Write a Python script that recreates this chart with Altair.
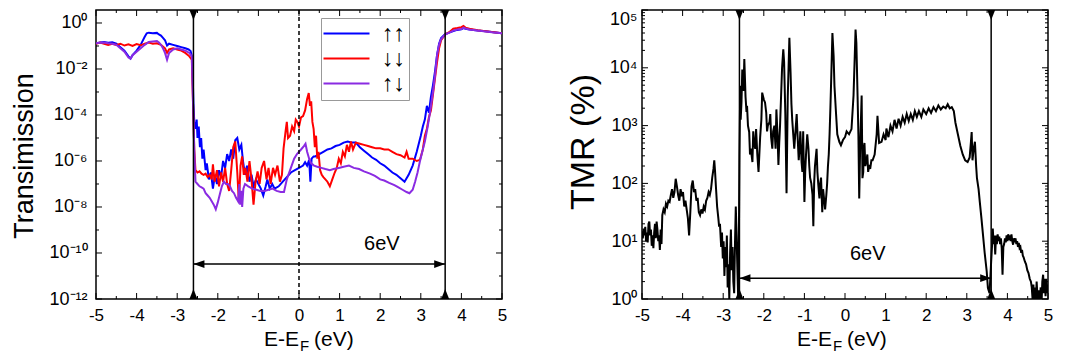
import altair as alt
import pandas as pd

FONT = "Liberation Sans"

# ---------------- data (log10 values) ----------------
labels = ["↑↑", "↓↓", "↑↓"]
colors = ["#0000ff", "#ff0000", "#8a2be2"]

blue_e = [-5.0,-4.9,-4.8,-4.7,-4.6,-4.5,-4.4,-4.3,-4.2,-4.15,
          -4.1,-4.0,-3.9,-3.8,-3.75,-3.7,-3.6,-3.5,-3.45,-3.4,
          -3.35,-3.3,-3.25,-3.2,-3.1,-3.0,-2.9,-2.8,-2.72,-2.67,
          -2.63,-2.6,-2.58,-2.55,-2.52,-2.5,-2.47,-2.44,-2.41,-2.38,
          -2.35,-2.3,-2.27,-2.22,-2.17,-2.12,-2.07,-2.02,-1.97,-1.92,
          -1.87,-1.82,-1.77,-1.72,-1.67,-1.62,-1.57,-1.52,-1.47,-1.42,
          -1.38,-1.33,-1.28,-1.22,-1.17,-1.12,-1.06,-1.0,-0.94,-0.88,
          -0.82,-0.78,-0.72,-0.66,-0.6,-0.5,-0.4,-0.3,-0.2,-0.1,
          0.0,0.1,0.15,0.2,0.25,0.28,0.31,0.36,0.4,0.5,
          0.6,0.7,0.8,0.9,1.0,1.1,1.2,1.3,1.4,1.5,
          1.6,1.7,1.8,1.9,2.0,2.1,2.2,2.3,2.4,2.5,
          2.6,2.7,2.8,2.9,3.0,3.05,3.1,3.15,3.2,3.25,
          3.3,3.35,3.4,3.45,3.5,3.6,3.7,3.8,3.9,4.0,
          4.05,4.1,4.2,4.4,4.6,4.8,5.0]
blue_log = [-0.88,-0.85,-0.83,-0.86,-0.84,-0.9,-1.05,-1.2,-1.45,-1.55,
            -1.4,-1.2,-0.95,-0.6,-0.45,-0.42,-0.45,-0.43,-0.5,-0.55,
            -0.65,-0.75,-0.98,-0.9,-0.95,-1.0,-1.05,-1.1,-1.15,-1.22,
            -1.5,-3.5,-4.3,-4.6,-4.2,-5.0,-4.5,-5.4,-5.0,-5.9,
            -5.5,-6.4,-6.1,-6.8,-6.5,-7.2,-6.6,-7.0,-6.4,-6.7,
            -6.0,-6.3,-5.7,-6.0,-5.5,-5.9,-5.1,-5.0,-5.5,-5.3,
            -6.0,-6.6,-6.2,-6.9,-6.6,-7.1,-6.8,-7.0,-7.2,-7.5,
            -7.1,-6.8,-7.2,-7.0,-7.2,-7.1,-6.9,-6.7,-6.5,-6.4,
            -6.3,-6.2,-6.05,-6.2,-5.95,-6.9,-5.9,-5.8,-5.8,-5.7,
            -5.6,-5.5,-5.45,-5.35,-5.3,-5.2,-5.15,-5.2,-5.2,-5.4,
            -5.55,-5.7,-5.85,-5.95,-6.1,-6.2,-6.35,-6.5,-6.6,-6.75,
            -6.9,-6.6,-6.2,-5.6,-4.9,-4.5,-4.2,-3.6,-3.9,-3.2,
            -2.7,-2.1,-1.4,-0.9,-0.65,-0.48,-0.42,-0.35,-0.3,-0.27,
            -0.22,-0.25,-0.28,-0.33,-0.36,-0.4,-0.45]

red_e = [-5.0,-4.9,-4.8,-4.7,-4.6,-4.5,-4.4,-4.3,-4.2,-4.1,
         -4.0,-3.9,-3.8,-3.7,-3.6,-3.5,-3.4,-3.3,-3.25,-3.2,
         -3.1,-3.0,-2.9,-2.8,-2.7,-2.64,-2.61,-2.58,-2.55,-2.5,
         -2.45,-2.4,-2.35,-2.3,-2.25,-2.2,-2.15,-2.12,-2.08,-2.02,
         -1.97,-1.92,-1.87,-1.82,-1.77,-1.72,-1.67,-1.62,-1.57,-1.52,
         -1.48,-1.44,-1.4,-1.36,-1.32,-1.27,-1.22,-1.17,-1.12,-1.07,
         -1.02,-0.97,-0.92,-0.86,-0.8,-0.75,-0.7,-0.64,-0.59,-0.53,
         -0.47,-0.42,-0.38,-0.33,-0.3,-0.27,-0.22,-0.17,-0.12,-0.08,
         -0.04,0.0,0.05,0.1,0.15,0.2,0.24,0.27,0.3,0.33,
         0.36,0.39,0.42,0.45,0.48,0.52,0.56,0.6,0.65,0.7,
         0.76,0.82,0.88,0.93,0.98,1.03,1.08,1.13,1.18,1.23,
         1.28,1.33,1.4,1.5,1.6,1.7,1.8,1.9,2.0,2.1,
         2.2,2.3,2.4,2.5,2.6,2.65,2.7,2.8,2.9,2.98,
         3.05,3.1,3.15,3.2,3.25,3.3,3.35,3.4,3.45,3.5,
         3.6,3.7,3.8,3.9,4.0,4.05,4.1,4.2,4.4,4.6,
         4.8,5.0]
red_log = [-0.9,-0.85,-0.9,-0.95,-0.9,-0.95,-0.9,-0.98,-0.93,-1.0,
           -0.92,-0.97,-0.9,-0.85,-0.9,-0.88,-0.95,-1.1,-1.3,-1.15,
           -1.1,-1.15,-1.2,-1.3,-1.45,-1.6,-3.5,-5.5,-6.4,-6.5,
           -6.45,-6.55,-6.6,-6.55,-6.7,-6.6,-6.8,-6.15,-6.9,-6.4,
           -7.1,-6.5,-6.9,-6.3,-7.0,-7.3,-6.4,-5.4,-5.15,-6.5,
           -7.8,-6.2,-5.8,-6.6,-6.3,-6.9,-6.0,-6.8,-7.9,-6.9,
           -6.45,-7.0,-6.3,-6.0,-6.8,-6.3,-7.0,-6.3,-6.6,-6.2,
           -6.9,-6.6,-5.45,-4.7,-4.3,-5.0,-4.9,-4.5,-4.7,-4.2,
           -4.3,-4.5,-4.1,-4.05,-3.8,-3.3,-3.05,-3.6,-3.4,-4.3,
           -4.6,-5.4,-4.9,-5.9,-5.6,-6.4,-6.6,-6.7,-6.8,-6.9,
           -7.1,-6.8,-6.5,-6.3,-5.9,-6.1,-5.6,-5.8,-5.3,-5.6,
           -5.15,-5.5,-5.2,-5.25,-5.3,-5.35,-5.4,-5.45,-5.45,-5.5,
           -5.5,-5.6,-5.7,-5.75,-5.85,-5.6,-5.9,-5.9,-6.0,-5.95,
           -5.5,-4.9,-4.6,-4.1,-3.8,-3.1,-2.4,-1.7,-1.1,-0.75,
           -0.5,-0.4,-0.25,-0.22,-0.18,-0.13,-0.2,-0.25,-0.32,-0.36,
           -0.4,-0.45]

purple_e = [-5.0,-4.9,-4.8,-4.7,-4.6,-4.5,-4.4,-4.3,-4.2,-4.15,
            -4.1,-4.0,-3.9,-3.8,-3.7,-3.6,-3.5,-3.45,-3.4,-3.35,
            -3.3,-3.25,-3.2,-3.1,-3.0,-2.9,-2.8,-2.7,-2.64,-2.61,
            -2.58,-2.55,-2.5,-2.45,-2.4,-2.35,-2.3,-2.25,-2.2,-2.15,
            -2.1,-2.05,-2.0,-1.95,-1.9,-1.85,-1.8,-1.75,-1.7,-1.65,
            -1.6,-1.55,-1.5,-1.47,-1.45,-1.42,-1.4,-1.37,-1.33,-1.25,
            -1.15,-1.05,-0.95,-0.85,-0.75,-0.65,-0.55,-0.45,-0.37,-0.3,
            -0.2,-0.12,-0.05,0.05,0.12,0.16,0.2,0.25,0.3,0.37,
            0.45,0.55,0.65,0.76,0.85,0.98,1.1,1.23,1.35,1.48,
            1.6,1.75,1.87,2.0,2.1,2.22,2.35,2.45,2.55,2.65,
            2.72,2.8,2.86,2.92,2.98,3.05,3.1,3.17,3.23,3.3,
            3.35,3.4,3.45,3.5,3.6,3.7,3.8,3.9,4.0,4.05,
            4.1,4.2,4.4,4.6,4.8,5.0]
purple_log = [-0.88,-0.86,-0.85,-0.88,-0.9,-0.95,-1.1,-1.25,-1.5,-1.55,
              -1.4,-1.25,-1.1,-0.95,-0.82,-0.8,-0.78,-0.85,-0.95,-1.1,
              -1.3,-1.6,-1.3,-1.15,-1.1,-1.15,-1.2,-1.3,-1.45,-3.5,
              -5.5,-6.9,-7.0,-7.1,-7.15,-7.2,-7.4,-7.5,-7.6,-7.75,
              -7.9,-8.1,-7.8,-7.45,-7.1,-6.9,-7.0,-7.0,-7.1,-7.3,
              -7.4,-7.6,-7.75,-7.0,-7.9,-7.3,-8.0,-7.2,-7.0,-7.1,
              -7.2,-7.25,-7.3,-7.3,-7.25,-7.2,-7.3,-7.35,-7.35,-6.8,
              -6.3,-5.9,-5.7,-5.5,-5.35,-5.25,-5.6,-5.9,-6.1,-6.2,
              -6.25,-6.3,-6.35,-6.4,-6.35,-6.3,-6.25,-6.2,-6.3,-6.35,
              -6.45,-6.55,-6.65,-6.8,-6.85,-6.95,-7.05,-7.15,-7.25,-7.35,
              -7.4,-7.25,-6.9,-6.5,-6.0,-5.5,-5.15,-4.5,-3.85,-3.0,
              -2.3,-1.4,-0.95,-0.7,-0.5,-0.42,-0.33,-0.28,-0.26,-0.2,
              -0.24,-0.28,-0.33,-0.37,-0.41,-0.45]

# TMR (log10 %), outside the gap on the left
tmr_left_e = [-5.0,-4.98,-4.96,-4.94,-4.92,-4.9,-4.88,-4.86,-4.84,-4.82,
              -4.8,-4.78,-4.76,-4.74,-4.72,-4.7,-4.68,-4.66,-4.64,-4.62,
              -4.6,-4.58,-4.56,-4.54,-4.52,
              -4.5,-4.47,-4.44,-4.41,-4.38,-4.35,-4.32,-4.29,-4.26,-4.23,
              -4.2,-4.17,-4.14,-4.11,-4.08,-4.05,-4.02,-3.99,-3.96,-3.93,
              -3.9,-3.87,-3.84,-3.81,-3.78,-3.75,-3.72,-3.69,-3.66,-3.63,
              -3.6,-3.57,-3.54,-3.51,-3.48,-3.45,-3.42,-3.39,-3.36,-3.33,
              -3.3,-3.27,-3.24,-3.22,-3.2,-3.18,-3.15,-3.12,-3.1,-3.08,
              -3.05,-3.03,-3.01,-2.99,-2.97,-2.95,-2.93,-2.91,-2.89,-2.87,
              -2.85,-2.83,-2.81,-2.79,-2.77,-2.75,-2.73,-2.71,-2.69,-2.67,
              -2.65,-2.63,-2.61]
tmr_left_log = [1.17,1.05,1.22,1.1,1.25,1.0,1.15,0.98,1.3,1.34,
                1.1,1.2,0.92,1.1,0.88,1.15,1.3,1.05,1.34,1.2,
                1.0,1.1,0.85,1.2,0.95,
                1.45,1.55,1.5,1.65,1.6,1.7,1.68,1.8,1.9,1.75,
                1.85,2.08,1.95,1.8,1.7,1.9,1.78,1.85,1.6,1.7,
                1.55,1.4,1.1,1.5,1.95,2.05,1.85,1.9,1.7,1.75,
                1.5,1.45,1.55,1.48,1.6,1.55,1.7,1.75,1.85,1.8,
                1.9,2.1,2.25,2.4,2.2,1.95,1.6,1.4,1.25,1.3,
                0.9,1.15,0.7,1.0,0.4,0.9,0.55,1.1,0.2,0.6,
                0.0,0.8,1.2,0.5,0.9,0.3,0.1,0.95,1.6,1.1,
                0.5,0.0,1.4]

# TMR inside the gap
tmr_gap_e = [-2.6,-2.58,
             -2.55,-2.53,-2.5,-2.48,-2.45,-2.43,-2.39,-2.36,-2.32,-2.28,
             -2.24,-2.19,-2.16,-2.13,-2.09,-2.04,-2.0,-1.94,-1.9,-1.86,
             -1.82,-1.79,-1.74,-1.69,-1.66,-1.64,-1.6,-1.57,-1.55,-1.52,
             -1.49,-1.47,-1.44,-1.41,-1.37,-1.34,-1.32,-1.28,-1.25,-1.21,
             -1.17,-1.12,-1.07,-1.03,-1.0,-0.96,-0.93,-0.88,-0.83,-0.78,
             -0.74,-0.7,-0.66,-0.63,-0.59,-0.56,-0.51,-0.46,-0.42,-0.38,
             -0.34,-0.31,-0.28,-0.26,-0.22,-0.19,-0.14,-0.1,-0.05,0.0,
             0.04,0.1,0.16,0.21,0.24,0.26,0.28,0.31,0.33,0.35,
             0.38,0.41,0.43,0.46,0.5,0.53,0.57,0.6,0.65,0.68,
             0.73,0.78,0.8,0.84,0.9,0.95,1.0,1.02,1.07,1.12,
             1.17,1.22,1.27,1.32,1.37,1.42,1.47,1.52,1.57,1.62,
             1.67,1.72,1.77,1.82,1.88,1.93,2.0,2.06,2.12,2.18,
             2.24,2.3,2.36,2.42,2.48,2.53,2.58,2.63,2.68,2.72,
             2.78,2.84,2.9,2.96,3.02,3.07,3.1,3.12,3.14,3.17,
             3.2,3.23,3.25,3.29,3.32,3.36,3.4,3.44,3.49,3.52,
             3.56]
tmr_gap_log = [2.5,3.69,
               3.4,3.97,3.6,4.15,3.5,3.28,3.0,2.89,2.6,2.37,
               2.7,2.94,2.5,2.2,2.8,3.57,3.45,3.22,3.0,3.06,
               2.8,2.6,3.0,3.28,2.8,2.32,3.0,3.6,4.0,4.32,
               3.8,3.2,1.83,3.5,4.52,3.9,3.38,2.9,2.6,3.0,
               2.85,2.6,2.37,2.9,1.68,2.5,2.85,2.3,2.0,1.26,
               2.3,2.6,2.0,1.74,2.1,1.5,1.7,1.8,2.3,2.85,
               3.8,4.6,4.2,3.69,3.2,2.85,2.72,2.66,2.75,2.8,
               2.9,2.85,2.94,3.52,4.2,4.66,4.43,3.5,2.85,1.74,
               2.8,3.52,2.09,2.6,2.3,2.4,2.2,2.32,2.4,2.4,
               2.5,2.85,3.17,2.7,2.72,2.85,2.75,2.95,2.8,3.0,
               2.9,3.1,2.95,3.12,3.0,3.15,3.05,3.2,3.08,3.2,
               3.1,3.25,3.15,3.25,3.15,3.28,3.2,3.3,3.22,3.32,
               3.25,3.35,3.28,3.33,3.3,3.37,3.3,3.32,3.25,3.05,
               2.85,2.65,2.5,2.4,2.37,2.45,2.7,2.89,2.4,2.6,
               2.72,2.3,2.09,1.9,1.68,1.4,1.1,0.8,0.48,0.19,
               0.1]
# extra zig-zag readings inside the gap (merged by energy)
tmr_gap_extra_e = [-2.57,-2.41,-2.34,-2.26,-2.21,-2.11,-2.06,-1.97,-1.92,-1.84,
                   -1.77,-1.71,-1.62,-1.5,-1.39,-1.3,-1.23,-1.19,-1.14,-1.1,
                   -1.05,-0.98,-0.9,-0.86,-0.8,-0.76,-0.72,-0.68,-0.61,-0.54,
                   -0.49,-0.44,-0.4,-0.36,0.37,0.45,0.48,0.55,0.62]
tmr_gap_extra_log = [3.1,3.3,2.5,2.9,2.6,2.5,3.1,3.4,2.9,3.2,
                     2.9,2.6,2.7,4.1,4.0,3.1,2.8,3.2,2.4,2.9,
                     2.2,2.2,2.6,2.1,1.8,2.0,2.45,2.2,2.0,1.9,
                     1.55,2.0,2.5,3.3,2.5,2.2,2.7,2.5,2.25]

# TMR outside the gap on the right
tmr_right_e = [3.6,3.62,3.64,3.66,3.68,3.7,3.72,3.74,3.76,3.78,
               3.8,3.82,3.84,3.86,3.88,3.9,3.92,3.94,3.96,3.98,
               4.0,4.02,4.04,4.06,4.08,4.1,4.12,4.14,4.16,4.18,
               4.2,4.22,4.24,4.26,4.28,4.3,4.32,4.34,4.36,4.38,
               4.4,4.43,4.46,4.49,4.52,4.55,4.58,4.6,4.62,4.64,
               4.66,4.68,4.7,4.72,4.74,4.76,4.78,4.8,4.82,4.84,
               4.86,4.88,4.9,4.92,4.94,4.96,4.98,5.0]
tmr_right_log = [0.65,0.9,1.22,0.95,1.1,0.77,1.1,0.95,1.12,1.0,
                 1.08,0.95,1.05,0.88,0.42,0.9,0.95,1.05,0.98,1.1,
                 1.0,1.12,1.02,1.1,1.0,1.12,1.0,0.94,1.05,0.98,
                 1.05,0.95,1.0,0.9,0.97,0.88,0.9,0.8,0.85,0.75,
                 0.72,0.65,0.6,0.5,0.45,0.35,0.3,0.2,0.0,0.25,
                 -0.1,0.2,-0.1,0.3,0.05,-0.1,0.15,0.0,0.2,-0.1,
                 0.3,0.42,0.1,0.35,0.05,0.35,0.1,0.25]

gap_edges = [-2.6, 3.6]          # band-edge markers (eV)
fermi = [0.0]
gap_label = "6eV"
left_arrow_log = -10.48          # height of the 6 eV arrow (log10 T)
right_arrow_log = 0.36           # height of the 6 eV arrow (log10 TMR)
left_label_pos = (2.04, -9.62)
right_label_pos = (0.56, 0.77)

x_major = list(range(-5, 6))
x_minor = [v + 0.5 for v in range(-5, 5)]
left_y_exp_major = list(range(-12, 1, 2))
left_y_exp_minor = list(range(-11, 0, 2))
right_y_exp_major = list(range(0, 6))
right_minor_mult = [2, 3, 4, 5, 6, 7, 8, 9]

for a, b in ((blue_e, blue_log), (red_e, red_log), (purple_e, purple_log), (tmr_left_e, tmr_left_log),
             (tmr_gap_e, tmr_gap_log), (tmr_gap_extra_e, tmr_gap_extra_log), (tmr_right_e, tmr_right_log)):
    assert len(a) == len(b), (len(a), len(b))

# ---------------- tables ----------------
rows = []
for lab, es, ls in ((labels[0], blue_e, blue_log), (labels[1], red_e, red_log), (labels[2], purple_e, purple_log)):
    for e, l in zip(es, ls):
        rows.append({"E": e, "T": 10 ** l, "spin": lab})
trans_df = pd.DataFrame(rows)
tmr_all_e = tmr_left_e + tmr_gap_e + tmr_gap_extra_e + tmr_right_e
tmr_all_log = tmr_left_log + tmr_gap_log + tmr_gap_extra_log + tmr_right_log
tmr_df = pd.DataFrame({"E": tmr_all_e, "TMR": [10 ** l for l in tmr_all_log]}).sort_values("E")

W, H = 406, 289
SUP = str.maketrans("-0123456789", "⁻⁰¹²³⁴⁵⁶⁷⁸⁹")


def pow_label_expr(exps):
    parts = [f"abs(log(datum.value)/LN10 - ({e})) < 0.01 ? '10{str(e).translate(SUP)}'" for e in exps]
    return " : ".join(parts) + " : ''"


xsc = alt.Scale(domain=[-5, 5], nice=False, zero=False)
ysc_l = alt.Scale(type="log", domain=[1e-12, 10 ** 0.565], nice=False)
ysc_r = alt.Scale(type="log", domain=[1, 1e5], nice=False)

x_axis = alt.Axis(values=x_major, labelExpr="'' + datum.value", ticks=False, domain=False, grid=False,
                  title=None, labelFontSize=17, labelFont=FONT, labelColor="black", labelPadding=8,
                  labelFlush=False, labelOverlap=False)


def y_axis(exps, pad, top_shift=0):
    kw = {}
    if top_shift:
        # nudge the top-most label down so it stays inside the picture
        kw["labelOffset"] = {"condition": {"test": f"datum.value > {0.5 * 10.0 ** max(exps)}",
                                           "value": top_shift}, "value": 0}
    return alt.Axis(values=[10.0 ** e for e in exps], labelExpr=pow_label_expr(exps), ticks=False,
                    domain=False, grid=False, title=None, labelFontSize=18, labelFont=FONT,
                    labelColor="black", labelPadding=pad, labelOverlap=False, labelFlush=False, **kw)


y_axis_l = y_axis(left_y_exp_major, 9)
y_axis_r = y_axis(right_y_exp_major, 5, top_shift=9)


def frame_ticks(xs_major, xs_minor, ys_major, ys_minor, ysc, yax):
    layers = []
    for vals, ln in ((xs_major, 6), (xs_minor, 3)):
        base = alt.Chart(pd.DataFrame({"v": vals})).mark_rule(color="black", strokeWidth=1)
        layers.append(base.encode(x=alt.X("v:Q", scale=xsc, axis=x_axis), y=alt.value(H), y2=alt.value(H - ln)))
        layers.append(base.encode(x=alt.X("v:Q", scale=xsc, axis=x_axis), y=alt.value(0), y2=alt.value(ln)))
    for vals, ln in ((ys_major, 6), (ys_minor, 3)):
        base = alt.Chart(pd.DataFrame({"v": vals})).mark_rule(color="black", strokeWidth=1)
        layers.append(base.encode(y=alt.Y("v:Q", scale=ysc, axis=yax), x=alt.value(0), x2=alt.value(ln)))
        layers.append(base.encode(y=alt.Y("v:Q", scale=ysc, axis=yax), x=alt.value(W), x2=alt.value(W - ln)))
    return layers


def text_at(txt, x, y, size, align="center", baseline="alphabetic", angle=0):
    return alt.Chart(pd.DataFrame({"t": [txt]})).mark_text(
        fontSize=size, font=FONT, color="black", align=align, baseline=baseline, angle=angle
    ).encode(text="t:N", x=alt.value(x), y=alt.value(y))


def gap_marks(ysc, yax, arrow_val, label_pos, with_dash):
    layers = []
    X = lambda f: alt.X(f, scale=xsc, axis=x_axis)
    Y = lambda f: alt.Y(f, scale=ysc, axis=yax)
    edges = pd.DataFrame({"E": gap_edges})
    layers.append(alt.Chart(edges).mark_rule(color="black", strokeWidth=1.5).encode(x=X("E:Q")))
    if with_dash:
        layers.append(alt.Chart(pd.DataFrame({"E": fermi})).mark_rule(
            color="black", strokeWidth=1.5, strokeDash=[4, 3]).encode(x=X("E:Q")))
    tri = dict(size=400, filled=True, color="black", opacity=1, strokeWidth=0)
    layers.append(alt.Chart(edges).mark_point(shape="M-0.4,0L0.4,0L0,1Z", **tri).encode(
        x=X("E:Q"), y=alt.value(0)))
    layers.append(alt.Chart(edges).mark_point(shape="M-0.4,0L0.4,0L0,-1Z", **tri).encode(
        x=X("E:Q"), y=alt.value(H)))
    arr = pd.DataFrame({"E1": [gap_edges[0]], "E2": [gap_edges[1]], "V": [10 ** arrow_val]})
    layers.append(alt.Chart(arr).mark_rule(color="black", strokeWidth=1.5).encode(
        x=X("E1:Q"), x2="E2:Q", y=Y("V:Q")))
    head = dict(size=484, filled=True, color="black", opacity=1, strokeWidth=0)
    layers.append(alt.Chart(arr).mark_point(shape="M0,0L1,-0.35L1,0.35Z", **head).encode(
        x=X("E1:Q"), y=Y("V:Q")))
    layers.append(alt.Chart(arr).mark_point(shape="M0,0L-1,-0.35L-1,0.35Z", **head).encode(
        x=X("E2:Q"), y=Y("V:Q")))
    lab = pd.DataFrame({"E": [label_pos[0]], "V": [10 ** label_pos[1]], "t": [gap_label]})
    layers.append(alt.Chart(lab).mark_text(fontSize=20, font=FONT, color="black").encode(
        x=X("E:Q"), y=Y("V:Q"), text="t:N"))
    return layers


# ---------------- left panel ----------------
legend = alt.Legend(orient="none", legendX=225, legendY=8, title=None,
                    symbolType="M-2.6,0L6.6,0", symbolSize=100, symbolStrokeWidth=2,
                    labelFontSize=23, labelFont=FONT, labelFontWeight="bold", labelColor="black",
                    strokeColor="#999999", fillColor="white", padding=4, rowPadding=1, labelOffset=34,
                    labelExpr="datum.label + '\u00a0\u00a0\u00a0\u00a0\u00a0'")

lines_l = alt.Chart(trans_df).mark_line(strokeWidth=2, clip=True).encode(
    x=alt.X("E:Q", scale=xsc, axis=x_axis),
    y=alt.Y("T:Q", scale=ysc_l, axis=y_axis_l),
    color=alt.Color("spin:N", scale=alt.Scale(domain=labels, range=colors), legend=legend),
)

left_layers = [lines_l]
left_layers += gap_marks(ysc_l, y_axis_l, left_arrow_log, left_label_pos, True)
left_layers += frame_ticks(x_major, x_minor, [10.0 ** e for e in left_y_exp_major],
                           [10.0 ** e for e in left_y_exp_minor], ysc_l, y_axis_l)
left_layers += [
    text_at("E-E", 203, 336, 21, align="right"),
    text_at("F", 204, 341, 15, align="left"),
    text_at("(eV)", 218, 336, 21, align="left"),
    text_at("Transimission", -71, 146, 27, baseline="middle", angle=270),
]
left = alt.layer(*left_layers).properties(width=W, height=H)

# ---------------- right panel ----------------
line_r = alt.Chart(tmr_df).mark_line(strokeWidth=2, color="black", clip=True).encode(
    x=alt.X("E:Q", scale=xsc, axis=x_axis),
    y=alt.Y("TMR:Q", scale=ysc_r, axis=y_axis_r),
)
right_minor = [m * 10.0 ** d for d in range(0, 5) for m in right_minor_mult]
right_layers = [line_r]
right_layers += gap_marks(ysc_r, y_axis_r, right_arrow_log, right_label_pos, False)
right_layers += frame_ticks(x_major, x_minor, [10.0 ** e for e in right_y_exp_major], right_minor,
                            ysc_r, y_axis_r)
right_layers += [
    text_at("E-E", 190, 336, 21, align="right"),
    text_at("F", 191, 341, 15, align="left"),
    text_at("(eV)", 205, 336, 21, align="left"),
    text_at("TMR (%)", -58, 132, 34, baseline="middle", angle=270),
]
right = alt.layer(*right_layers).properties(width=W, height=H)

chart = alt.hconcat(left, right, spacing=58).properties(
    padding={"left": 2, "top": 0, "right": 0, "bottom": 0}
).configure_view(stroke="black", strokeWidth=1.5)

chart.save("out.html", embed_options={"renderer": "svg", "actions": False})
